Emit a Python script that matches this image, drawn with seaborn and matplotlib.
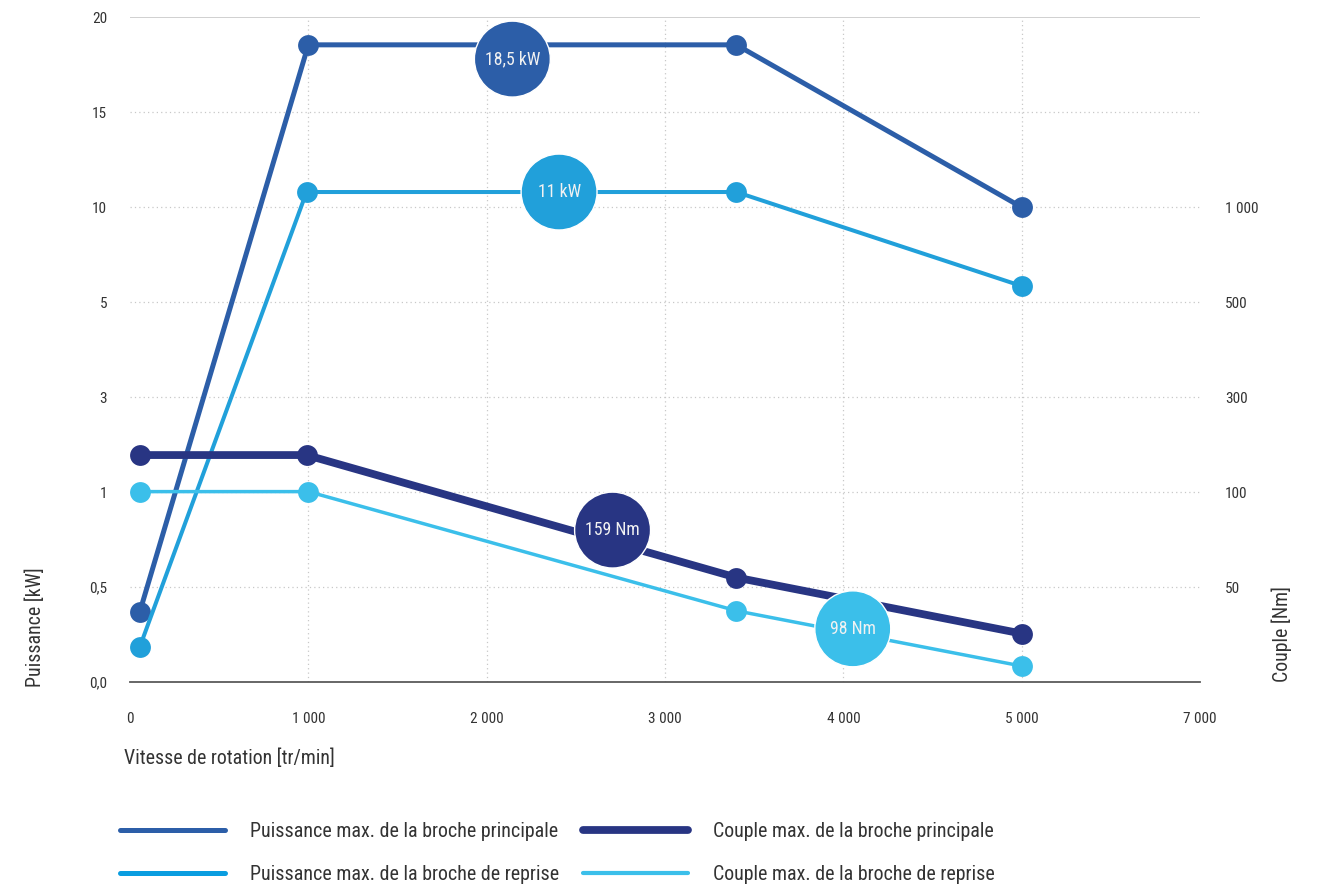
import numpy as np
import matplotlib
matplotlib.use("Agg")
import matplotlib.pyplot as plt
import seaborn as sns
from matplotlib import font_manager as fm
from matplotlib.lines import Line2D

# ---------------- data ----------------
x_ticks = [0, 1000, 2000, 3000, 4000, 5000, 7000]
x_tick_labels = ["0", "1 000", "2 000", "3 000", "4 000", "5 000", "7 000"]
kw_stops = [0, 0.5, 1, 3, 5, 10, 15, 20]
kw_tick_labels = ["0,0", "0,5", "1", "3", "5", "10", "15", "20"]
nm_stops = [0, 50, 100, 300, 500, 1000, 1500, 2000]
nm_ticks = [50, 100, 300, 500, 1000]
nm_tick_labels = ["50", "100", "300", "500", "1 000"]

speed_power_main = [55, 1000, 3400, 5000]
power_main = [0.37, 18.55, 18.55, 10.0]
speed_power_sub = [55, 990, 3400, 5000]
power_sub = [0.185, 10.8, 10.8, 5.85]
speed_torque_main = [55, 990, 3400, 5000]
torque_main = [178, 178, 55, 25.5]
speed_torque_sub = [55, 1000, 3400, 5000]
torque_sub = [101, 101, 37.5, 8.4]

kw_badge_labels = ["18,5 kW", "11 kW"]
kw_badge_speed = [2144, 2406]
kw_badge_value = [17.8, 10.8]
nm_badge_labels = ["159 Nm", "98 Nm"]
nm_badge_speed = [2706, 4053]
nm_badge_value = [80, 28]

legend_labels = ["Puissance max. de la broche principale",
                 "Puissance max. de la broche de reprise",
                 "Couple max. de la broche principale",
                 "Couple max. de la broche de reprise"]

C_PMAIN = "#2c5ea8"
C_PSUB = "#21a0da"
C_TMAIN = "#283583"
C_TSUB = "#3bbfea"

# ---------------- fonts ----------------
avail = {f.name for f in fm.fontManager.ttflist}
FONT = "DejaVu Sans"
for cand in ["Roboto Condensed", "Liberation Sans Narrow", "Arial Narrow",
             "Open Sans Condensed", "Roboto"]:
    if cand in avail:
        FONT = cand
        break

sns.set_theme(style="white")
plt.rcParams["font.family"] = [FONT, "DejaVu Sans"]
TXT = "#333333"


def piecewise(stops):
    s = np.asarray(stops, float)
    p = np.arange(len(s), dtype=float)

    def fwd(v):
        v = np.asarray(v, float)
        out = np.interp(v, s, p)
        out = np.where(v < s[0], (v - s[0]) / (s[1] - s[0]), out)
        out = np.where(v > s[-1], p[-1] + (v - s[-1]) / (s[-1] - s[-2]), out)
        return out

    def inv(q):
        q = np.asarray(q, float)
        out = np.interp(q, p, s)
        out = np.where(q < p[0], s[0] + q * (s[1] - s[0]), out)
        out = np.where(q > p[-1], s[-1] + (q - p[-1]) * (s[-1] - s[-2]), out)
        return out

    return fwd, inv


fig = plt.figure(figsize=(13.19, 8.89), dpi=100)
ax = fig.add_axes([130 / 1319, 1 - 682 / 889, 1070 / 1319, 664.7 / 889])

MS = 15
sns.lineplot(x=speed_power_main, y=power_main, ax=ax, color=C_PMAIN, lw=3.6,
             marker="o", markersize=MS, markeredgewidth=0, sort=False,
             errorbar=None, legend=False)
sns.lineplot(x=speed_power_sub, y=power_sub, ax=ax, color=C_PSUB, lw=2.9,
             marker="o", markersize=MS, markeredgewidth=0, sort=False,
             errorbar=None, legend=False)
sns.scatterplot(x=kw_badge_speed, y=kw_badge_value, hue=kw_badge_labels,
                palette=[C_PMAIN, C_PSUB], s=2990, edgecolor="white",
                linewidth=1, ax=ax, legend=False, zorder=5)
for lab, xs, yv in zip(kw_badge_labels, kw_badge_speed, kw_badge_value):
    ax.text(xs, yv, lab, color="#f2f2f2", fontsize=12.8, ha="center",
            va="center", zorder=6)

ax2 = ax.twinx()
sns.lineplot(x=speed_torque_main, y=torque_main, ax=ax2, color=C_TMAIN, lw=5.6,
             marker="o", markersize=MS, markeredgewidth=0, sort=False,
             errorbar=None, legend=False)
sns.lineplot(x=speed_torque_sub, y=torque_sub, ax=ax2, color=C_TSUB, lw=2.5,
             marker="o", markersize=MS, markeredgewidth=0, sort=False,
             errorbar=None, legend=False)
sns.scatterplot(x=nm_badge_speed, y=nm_badge_value, hue=nm_badge_labels,
                palette=[C_TMAIN, C_TSUB], s=2990, edgecolor="white",
                linewidth=1, ax=ax2, legend=False, zorder=5)
for lab, xs, yv in zip(nm_badge_labels, nm_badge_speed, nm_badge_value):
    ax2.text(xs, yv, lab, color="#f2f2f2", fontsize=12.8, ha="center",
             va="center", zorder=6)

# ---------------- scales ----------------
ax.set_xscale("function", functions=piecewise(x_ticks))
ax.set_yscale("function", functions=piecewise(kw_stops))
ax2.set_yscale("function", functions=piecewise(nm_stops))
ax.set_xlim(0, 7000)
ax.set_ylim(0, 20)
ax2.set_ylim(0, 2000)

ax.set_xticks(x_ticks)
ax.set_xticklabels(x_tick_labels)
ax.set_yticks(kw_stops)
ax.set_yticklabels(kw_tick_labels)
ax.minorticks_off()
ax2.set_yticks(nm_ticks)
ax2.set_yticklabels(nm_tick_labels)
ax2.minorticks_off()

ax.tick_params(axis="x", length=0, labelsize=11, labelcolor=TXT, pad=21.5)
ax.tick_params(axis="y", length=0, labelsize=11, labelcolor=TXT, pad=16.5)
ax2.tick_params(axis="y", length=0, labelsize=11, labelcolor=TXT, pad=18)

for a in (ax, ax2):
    for side in ["top", "left", "right", "bottom"]:
        a.spines[side].set_visible(False)
ax.spines["bottom"].set_visible(True)
ax.spines["bottom"].set_color("#5a5a5a")
ax.spines["bottom"].set_linewidth(1.3)

ax.grid(True, axis="both", color="#c8c8c8", lw=0.9, ls=(0, (1, 2.5)))
ax2.grid(False)
xg = ax.xaxis.get_gridlines()
xg[0].set_visible(False)
xg[-1].set_visible(False)
yg = ax.yaxis.get_gridlines()
yg[0].set_visible(False)
yg[-1].set_linestyle("-")
yg[-1].set_linewidth(1.2)
ax.set_axisbelow(True)

ax.set_xlabel("Vitesse de rotation [tr/min]", loc="left", fontsize=14.3, color=TXT)
ax.xaxis.set_label_coords(-0.006, -0.100)
ax.set_ylabel("Puissance [kW]", loc="bottom", fontsize=14.3, color=TXT)
ax.yaxis.set_label_coords(-0.079, -0.008)
ax2.set_ylabel("Couple [Nm]", loc="bottom", fontsize=14.3, color=TXT)
ax2.yaxis.set_label_coords(1.067, 0.0)

# ---------------- legend ----------------
h_pm = Line2D([], [], color=C_PMAIN, lw=3.6)
h_ps = Line2D([], [], color="#0a9de0", lw=3.6)
h_tm = Line2D([], [], color=C_TMAIN, lw=5.6)
h_ts = Line2D([], [], color=C_TSUB, lw=3.0)
common = dict(loc="upper left", frameon=False, borderpad=0, borderaxespad=0,
              handlelength=5.25, handletextpad=1.25, labelspacing=1.18,
              fontsize=14.4, labelcolor=TXT)
fig.legend(handles=[h_pm, h_ps], labels=legend_labels[:2],
           bbox_to_anchor=(120 / 1319, 1 - 822 / 889), **common)
fig.legend(handles=[h_tm, h_ts], labels=legend_labels[2:],
           bbox_to_anchor=(583 / 1319, 1 - 822 / 889), **common)

fig.savefig("out.png", dpi=100)
